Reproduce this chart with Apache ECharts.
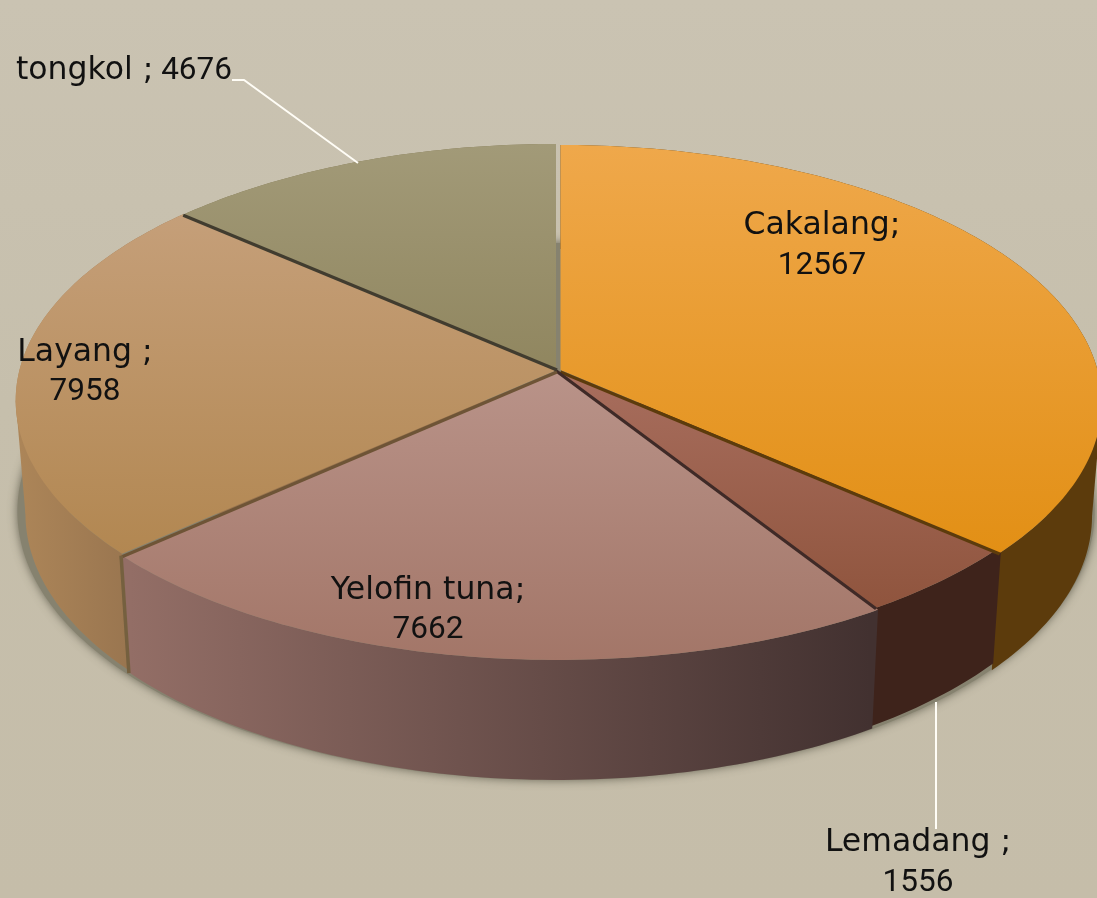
<!DOCTYPE html>
<html><head><meta charset="utf-8">
<style>html,body{margin:0;padding:0;background:#c6bfab}#c{width:1097px;height:898px}</style>
<script src="https://cdn.jsdelivr.net/npm/echarts@6/dist/echarts.min.js"></script>
</head><body><div id="c"></div>
<script>
// ---- data ----
const categories = ['Cakalang', 'Lemadang', 'Yelofin tuna', 'Layang', 'tongkol'];
const separators = [';', ' ;', ';', ' ;', ' ;'];
const values = [12567, 1556, 7662, 7958, 4676];

// ---- styles ----
const topColors = [['#efa84b','#e28f14'],['#a86e5e','#8f543d'],['#b99389','#a37668'],['#c59f79','#b28751'],['#a29a78','#90865f']];
const wallColors = [['#5c3b0c','#5c3b0c'],['#3e231b','#3e231b'],['#936e66','#423130'],['#ac8558','#9a7650'],['#7d7350','#7d7350']];
const edgeColors = ['#5c3b0c','#3f2a27','#6e5436','#413c2f'];
const offsets = [[4.5,0],[-1,-2],[1,0],[1,-2],[0,-1]];
const apexLift = [0,2,2,2,0];
const wallStartPad = [0,1.2,0,0,0];
const labelSpots = [[822,246,true],[918,863,true],[428,610.5,true],[85,372.5,true],[16,71,false]];
const leaderLines = [[[232,80],[244,80],[358,163]],[[936,702],[936,829]]];
const nameFont = '400 31.5px "DejaVu Sans", sans-serif';
const digitFont = '400 31.5px Roboto, Lato, sans-serif';

// ---- projection of the tilted disc ----
const CX = 556, CY = 370, A = 537, B = 253.4, K = -0.126, SHRINK = 0.982;
const TURN = Math.acos(K) * 180 / Math.PI; // rim angle of the widest point, measured from the back
const total = values.reduce((a, b) => a + b, 0);
const startAngle = i => values.slice(0, i).reduce((a, b) => a + b, 0) / total * 360;
function rim(deg) {
  const t = deg * Math.PI / 180, u = Math.sin(t), v = -Math.cos(t), w = 1 + K * v;
  return [CX + A * u / w, CY + B * v / w, v];
}
function arc(d0, d1) {
  const n = Math.max(2, Math.ceil(Math.abs(d1 - d0))), out = [];
  for (let i = 0; i <= n; i++) out.push(rim(d0 + (d1 - d0) * i / n));
  return out;
}
const lower = p => [CX + (p[0] - CX) * SHRINK, p[1] + 112 + 8 * p[2]];
const vGrad = (c, y0, y1) => ({type:'linear', global:true, x:0, y:y0, x2:0, y2:y1, colorStops:[{offset:0,color:c[0]},{offset:1,color:c[1]}]});
const hGrad = (c, x0, x1) => ({type:'linear', global:true, x:x0, y:0, x2:x1, y2:0, colorStops:[{offset:0,color:c[0]},{offset:1,color:c[1]}]});
const wallRange = [[556,1097],[870,990],[130,870],[20,125],[180,556]];
const topRange = [[145,560],[370,610],[370,660],[215,555],[145,370]];

const seriesData = values.map((v, i) => [v, i]);
function shift(pts, i) { return pts.map(p => [p[0] + offsets[i][0], p[1] + offsets[i][1]]); }

function renderShadow(params) {
  if (params.dataIndex) return null;
  const pts = arc(0, 360).map(p => [CX + (p[0] - CX) * 0.995, 243 + (p[1] - 145) * 1.043]);
  return {type:'polygon', shape:{points:pts}, style:{fill:'#86826f', shadowBlur:10, shadowColor:'rgba(88,86,70,0.85)'}};
}
function renderWall(params, api) {
  const i = api.value(1), d0 = startAngle(i) - wallStartPad[i], d1 = startAngle(i) + api.value(0) / total * 360;
  const a = arc(d0, d1);
  const fill = hGrad(wallColors[i], wallRange[i][0], wallRange[i][1]);
  const band = shift(a.map(p => [p[0], p[1]]).concat(a.slice().reverse().map(lower)), i);
  const children = [{type:'polygon', shape:{points:band}, style:{fill}}];
  // the straight silhouette edge where the wall turns away from the viewer
  [TURN, 360 - TURN].forEach(deg => {
    if (deg > d0 && deg < d1) {
      const t = rim(deg), l = lower(t);
      children.push({type:'polygon', shape:{points:shift([[t[0], t[1]], [l[0], l[1]], [CX, l[1]], [CX, t[1]]], i)}, style:{fill}});
    }
  });
  return {type:'group', children};
}
function renderTop(params, api) {
  const i = api.value(1), d0 = startAngle(i), d1 = d0 + api.value(0) / total * 360;
  const pts = shift([[CX, CY + apexLift[i]]].concat(arc(d0, d1)), i);
  return {type:'polygon', shape:{points:pts}, style:{fill:vGrad(topColors[i], topRange[i][0], topRange[i][1])}};
}
function renderEdge(params, api) {
  const i = api.value(1), d1 = startAngle(i) + api.value(0) / total * 360;
  if (i === 4) return null;
  const p = rim(d1), oi = offsets[i];
  const children = [{type:'line', shape:{x1:CX + oi[0], y1:CY + oi[1] + 2, x2:p[0] + oi[0], y2:p[1] + oi[1] + 1}, style:{stroke:edgeColors[i], lineWidth:3.2}}];
  if (i === 2) {
    const low = lower(p);
    children.push({type:'line', shape:{x1:p[0]+oi[0]-1, y1:p[1]+oi[1], x2:low[0]+oi[0]-1, y2:low[1]+oi[1]}, style:{stroke:'#75603f', lineWidth:3.5}});
  }
  return {type:'group', children};
}
function renderLabel(params, api) {
  const i = api.value(1), s = labelSpots[i];
  const text = '{n|' + categories[i] + separators[i] + '}' + (s[2] ? '\n' : '') + '{d|' + (s[2] ? '' : ' ') + api.value(0) + '}';
  return {type:'text', style:{text, x:s[0], y:s[1], align:s[2] ? 'center' : 'left', verticalAlign:'middle', fill:'#111',
    rich:{n:{font:nameFont, fill:'#111', lineHeight:39.5}, d:{font:digitFont, fill:'#111', lineHeight:39.5}}}};
}
function renderLeaders(params) {
  const l = leaderLines[params.dataIndex];
  return l ? {type:'polyline', shape:{points:l}, style:{stroke:'#fffdf6', lineWidth:2, fill:null}} : null;
}
const layer = (renderItem, z) => ({type:'custom', coordinateSystem:'none', renderItem, data:seriesData, z, silent:true, animation:false, clip:false,
  tooltip:{show:false}});

const chart = echarts.init(document.getElementById('c'), null, {renderer:'canvas'});
chart.setOption({
  animation:false,
  backgroundColor:{type:'linear', x:0, y:0, x2:0, y2:1, colorStops:[{offset:0,color:'#cac3b2'},{offset:0.45,color:'#c6bfac'},{offset:1,color:'#c5bda9'}]},
  series:[
    layer(renderShadow,1), layer(renderWall,2), layer(renderTop,3), layer(renderEdge,4), layer(renderLeaders,5), layer(renderLabel,6)
  ]
});
</script></body></html>
